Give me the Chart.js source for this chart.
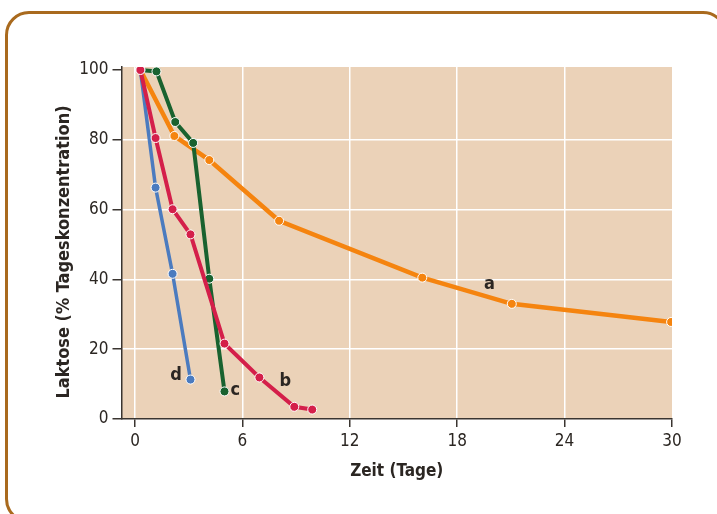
<!DOCTYPE html>
<html>
<head>
<meta charset="utf-8">
<script src="https://cdn.jsdelivr.net/npm/chart.js@4.4.0/dist/chart.umd.min.js"></script>
<style>
  html, body { margin: 0; padding: 0; background: #fff; }
  #wrap { position: relative; width: 717px; height: 514px; overflow: hidden; }
  #frame {
    position: absolute; left: 5px; top: 11px; width: 722px; height: 512px;
    border: 3px solid #a96a1e; border-radius: 24px; box-sizing: border-box;
  }
  #chart { position: absolute; left: 0; top: 0; }
</style>
</head>
<body>
<div id="wrap">
  <div id="frame"></div>
  <canvas id="chart" width="717" height="514"></canvas>
</div>
<script>
// ======== Data ========
const xTicks = [0, 6, 12, 18, 24, 30];
const yTicks = [0, 20, 40, 60, 80, 100];

// curve a (orange)
const aDays = [0.3, 2.2, 4.15, 8.05, 16.05, 21.05, 29.95];
const aLactose = [100, 81.1, 74.2, 56.8, 40.5, 33.0, 27.8];
// curve b (red)
const bDays = [0.3, 1.15, 2.1, 3.1, 5.0, 6.95, 8.9, 9.9];
const bLactose = [100, 80.5, 60.1, 52.9, 21.6, 11.9, 3.5, 2.7];
// curve c (green)
const cDays = [0.3, 1.2, 2.25, 3.25, 4.15, 5.0];
const cLactose = [100, 99.6, 85.1, 79.1, 40.2, 7.9];
// curve d (blue)
const dDays = [0.3, 1.15, 2.1, 3.1];
const dLactose = [100, 66.3, 41.6, 11.3];

const curveNames = ['a', 'b', 'c', 'd'];
const yTitle = 'Laktose (% Tageskonzentration)';

// ======== Helpers ========
const FONT = '"DejaVu Sans Condensed", "Liberation Sans Narrow", "Open Sans", sans-serif';
const INK = '#2b2622';

function toPoints(xs, ys) {
  return xs.map((x, i) => ({ x: x, y: ys[i] }));
}

function makeSet(name, xs, ys, color, width, order) {
  return {
    label: name,
    data: toPoints(xs, ys),
    borderColor: color,
    backgroundColor: color,
    pointBackgroundColor: color,
    pointBorderColor: '#ffffff',
    pointBorderWidth: 1,
    pointRadius: 4.5,
    borderWidth: width,
    tension: 0,
    order: order
  };
}

// plot background
const bgPlugin = {
  id: 'plotBg',
  beforeDraw(chart) {
    const { ctx, chartArea: a } = chart;
    ctx.save();
    ctx.fillStyle = '#ebd2b8';
    ctx.fillRect(a.left, a.top, a.right - a.left, a.bottom - a.top);
    ctx.restore();
  }
};

// y title sits a little below the axis middle in the original
const yTitlePlugin = {
  id: 'yTitle',
  afterDraw(chart) {
    const { ctx } = chart;
    ctx.save();
    ctx.translate(64, 252);
    ctx.rotate(-Math.PI / 2);
    ctx.fillStyle = INK;
    ctx.font = 'bold 18px ' + FONT;
    ctx.textAlign = 'center';
    ctx.textBaseline = 'middle';
    ctx.fillText(yTitle, 0, 0);
    ctx.restore();
  }
};

// curve letters, placed in data coordinates
const letterSpots = { a: [19.8, 38.6], b: [8.4, 10.8], c: [5.6, 8.1], d: [2.3, 12.4] };
const letterPlugin = {
  id: 'letters',
  afterDatasetsDraw(chart) {
    const { ctx, scales } = chart;
    ctx.save();
    ctx.fillStyle = INK;
    ctx.font = 'bold 18px ' + FONT;
    ctx.textAlign = 'center';
    ctx.textBaseline = 'middle';
    curveNames.forEach(n => {
      const p = letterSpots[n];
      ctx.fillText(n, scales.x.getPixelForValue(p[0]), scales.y.getPixelForValue(p[1]));
    });
    ctx.restore();
  }
};

// ======== Chart ========
const ctx = document.getElementById('chart').getContext('2d');

const chart = new Chart(ctx, {
  type: 'line',
  data: {
    datasets: [
      makeSet('a', aDays, aLactose, '#f5840f', 4.5, 4),
      makeSet('b', bDays, bLactose, '#d41f4a', 4, 1),
      makeSet('c', cDays, cLactose, '#19622f', 4, 2),
      makeSet('d', dDays, dLactose, '#4b7bbf', 3.5, 3)
    ]
  },
  options: {
    responsive: false,
    animation: false,
    layout: { padding: { left: 0, right: 45, top: 67, bottom: 0 } },
    plugins: {
      legend: { display: false },
      tooltip: { enabled: false }
    },
    scales: {
      x: {
        type: 'linear',
        min: -0.754,
        max: 30,
        afterBuildTicks(scale) { scale.ticks = xTicks.map(v => ({ value: v })); },
        afterFit(scale) { scale.height = 95; },
        ticks: { color: INK, font: { family: FONT, size: 17 }, padding: 4, maxRotation: 0 },
        grid: {
          color: c => (c.tick && c.tick.value === 30 ? 'rgba(0,0,0,0)' : '#ffffff'),
          lineWidth: 1.5,
          tickColor: '#3a3530',
          tickLength: 8,
          tickWidth: 1.5
        },
        border: { display: true, color: '#3a3530', width: 1.5 },
        title: {
          display: true,
          text: 'Zeit (Tage)',
          color: INK,
          font: { family: FONT, size: 17, weight: 'bold' },
          padding: { top: 0, bottom: 32 }
        }
      },
      y: {
        type: 'linear',
        min: 0,
        max: 100.86,
        afterBuildTicks(scale) { scale.ticks = yTicks.map(v => ({ value: v })); },
        afterFit(scale) { scale.width = 121.5; },
        ticks: { color: INK, font: { family: FONT, size: 17 }, padding: 4 },
        grid: {
          color: c => (c.tick && (c.tick.value === 0 || c.tick.value === 100) ? 'rgba(0,0,0,0)' : '#ffffff'),
          lineWidth: 1.5,
          tickColor: '#3a3530',
          tickLength: 9,
          tickWidth: 1.5
        },
        border: { display: true, color: '#3a3530', width: 1.5 },
        title: { display: false }
      }
    }
  },
  plugins: [bgPlugin, letterPlugin, yTitlePlugin]
});
</script>
</body>
</html>
